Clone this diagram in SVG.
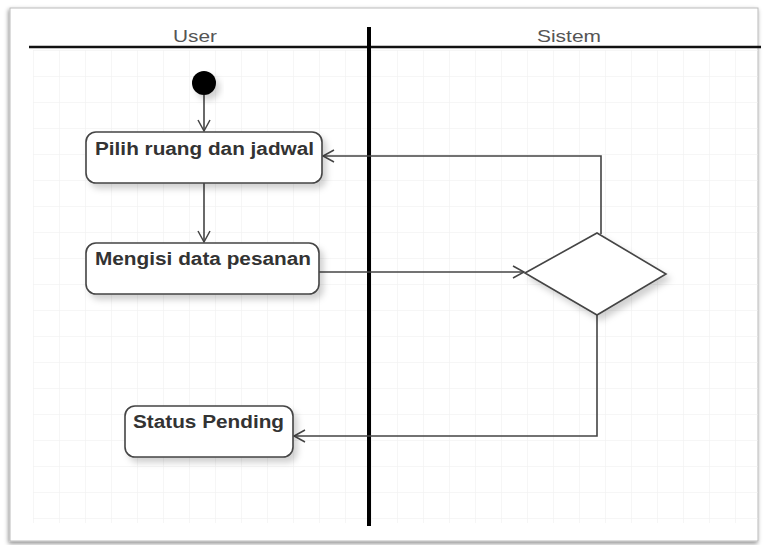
<svg xmlns="http://www.w3.org/2000/svg" width="768" height="545" viewBox="0 0 768 545">
<defs>
<pattern id="grid" x="33" y="50" width="26" height="26" patternUnits="userSpaceOnUse">
<path d="M0 0H26M0 0V26" fill="none" stroke="#eeeeee" stroke-width="1"/>
</pattern>
<filter id="sh" x="-20%" y="-20%" width="150%" height="160%">
<feDropShadow dx="4" dy="5" stdDeviation="3" flood-color="#000" flood-opacity="0.18"/>
</filter>
<filter id="fsh" x="-5%" y="-5%" width="110%" height="110%">
<feDropShadow dx="-1" dy="2" stdDeviation="2" flood-color="#000" flood-opacity="0.45"/>
</filter>
<marker id="arr" markerWidth="14" markerHeight="14" refX="12" refY="7" orient="auto" markerUnits="userSpaceOnUse">
<path d="M1 1L12 7L1 13" fill="none" stroke="#444" stroke-width="1.5"/>
</marker>
<style>
.node{fill:#fff;stroke:#444;stroke-width:1.6;filter:url(#sh)}
.lbl{font-family:"Liberation Sans",Arial,sans-serif;font-weight:bold;font-size:17.5px;fill:#333}
.lane{font-family:"Liberation Sans",Arial,sans-serif;font-size:17px;fill:#555}
.conn{fill:none;stroke:#444;stroke-width:1.6;marker-end:url(#arr)}
</style>
</defs>
<rect width="768" height="545" fill="#fff"/>
<rect x="10" y="8" width="748" height="533" fill="#fff" stroke="#bbb" stroke-width="1" filter="url(#fsh)"/>
<rect x="33" y="50" width="725" height="473" fill="url(#grid)"/>
<g id="lanes">
<line x1="29" y1="47" x2="761" y2="47" stroke="#111" stroke-width="2.5"/>
<line x1="369" y1="27" x2="369" y2="526" stroke="#000" stroke-width="4"/>
<text class="lane" x="173" y="42" textLength="44" lengthAdjust="spacingAndGlyphs">User</text>
<text class="lane" x="537" y="42" textLength="64" lengthAdjust="spacingAndGlyphs">Sistem</text>
</g>
<g id="connectors">
<path class="conn" d="M204 95V131"/>
<path class="conn" d="M204 183V242"/>
<path class="conn" d="M319 272H524"/>
<path class="conn" d="M601 234V156H323"/>
<path class="conn" d="M597 315V436H294"/>
</g>
<g id="start">
<circle cx="204" cy="83" r="12" fill="#000" filter="url(#sh)"/>
</g>
<g id="pilih">
<rect class="node" x="86" y="132" width="236" height="51" rx="10"/>
<text class="lbl" x="95" y="155" textLength="219" lengthAdjust="spacingAndGlyphs">Pilih ruang dan jadwal</text>
</g>
<g id="mengisi">
<rect class="node" x="86" y="243" width="233" height="51" rx="10"/>
<text class="lbl" x="95" y="265" textLength="216" lengthAdjust="spacingAndGlyphs">Mengisi data pesanan</text>
</g>
<g id="decision">
<polygon class="node" points="525,273 597,233 666,274 597,315"/>
</g>
<g id="status">
<rect class="node" x="125" y="406" width="168" height="51" rx="10"/>
<text class="lbl" x="133" y="428" textLength="151" lengthAdjust="spacingAndGlyphs">Status Pending</text>
</g>
</svg>
